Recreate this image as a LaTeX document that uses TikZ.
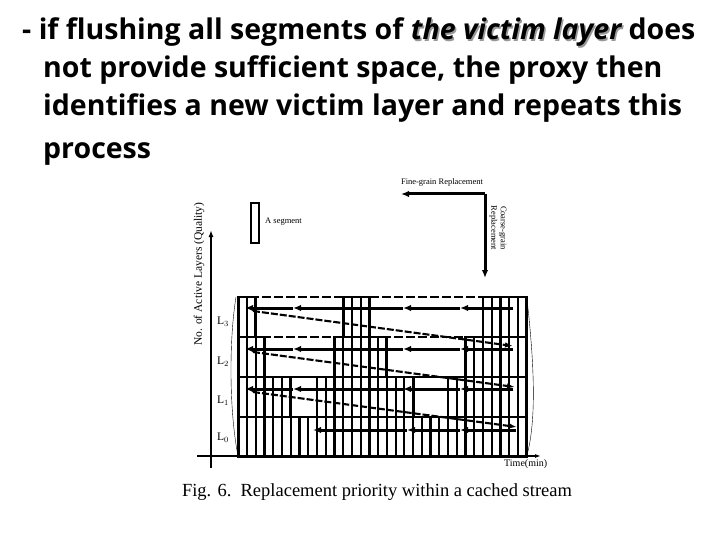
\documentclass[tikz,border=0pt]{standalone}
\usepackage{fontspec}
\setmainfont{Liberation Serif}
\newfontfamily\slidefont{Open Sans}
\usetikzlibrary{arrows.meta}

\newcommand*{\colx}{238.3}
\newcommand*{\colw}{8.74}
\newcommand*{\colend}{526.7}
\newcommand{\victim}[1]{\rlap{\kern1.5pt\raisebox{-1.5pt}{\color{black!40}\itshape #1}}{\itshape #1}}

\begin{document}
\begin{tikzpicture}
[
	x=1pt, y=-1pt,
	seg/.style={line width=2.2pt},
	segbox/.style={line width=2.8pt},
	layerline/.style={line width=2.6pt},
	rowarrow/.style={line width=3pt,-{Latex[length=8pt,width=6.5pt]}},
	slope/.style={line width=2.1pt,dash pattern=on 7pt off 2pt,-{Latex[length=8pt,width=5.5pt]}},
	serif/.style={font=\fontsize{#1}{#1}\selectfont,inner sep=0pt},
	slideline/.style={anchor=base west,inner sep=0pt,font=\slidefont\bfseries\fontsize{28.5}{28.5}\selectfont}
]
	\useasboundingbox (0,0) rectangle (720,540);

	% slide text
	\node[slideline] (line1) at (22,40) {- if flushing all segments of \victim{the victim layer} does};
	\node[slideline] (line2) at (43,78) {not provide sufficient space, the proxy then};
	\node[slideline] (line3) at (43,116) {identifies a new victim layer and repeats this};
	\node[slideline] (line4) at (43,159) {process};

	% segments of each layer
	\foreach \ytop/\first/\last in {297/0/1, 297/12/14, 297/28/32,
		337/0/2, 337/11/16, 337/26/32,
		377/0/5, 377/9/19, 377/24/32,
		417/0/32} {
		\foreach \k in {\first,...,\last}
			\draw[seg] ({\colx+\k*\colw},\ytop) -- ({\colx+\k*\colw},{\ytop+40});
		\draw[segbox] ({\colx+\first*\colw},\ytop) rectangle ({\colx+(\last+1)*\colw},{\ytop+40});
	}

	% layer boundaries
	\draw[layerline,dash pattern=on 9pt off 3pt] (\colx,297) -- (\colend,297);
	\draw[layerline,dash pattern=on 9pt off 3pt] (\colx,337) -- (\colend,337);
	\draw[layerline] (\colx,377) -- (\colend,377);
	\draw[layerline] (\colx,417) -- (\colend,417);

	% stream borders
	\draw[thin] (236,297) .. controls (229,340) and (229,410) .. (238,456);
	\draw[thin] (\colend,297) .. controls (534,360) and (537,420) .. (\colend,456);

	% axes
	\draw[line width=2.6pt,-{Latex[length=7pt,width=5pt]}] (211,468) -- (211,230);
	\draw[line width=2.6pt,-{Latex[length=6pt,width=4pt]}] (197,456) -- (541,456);
	\node[serif=11.5,rotate=90] (ylabel) at (199,274) {No. of Active Layers (Quality)};
	\node[serif=10,anchor=west] (timelabel) at (504,464) {Time(min)};
	\node[serif=11.5] (l3) at (223,322) {L$_3$};
	\node[serif=11.5] (l2) at (223,362) {L$_2$};
	\node[serif=11.5] (l1) at (223,401) {L$_1$};
	\node[serif=11.5] (l0) at (223,438) {L$_0$};

	% fine-grain replacement (within a layer)
	\foreach \y in {308,349,389} {
		\draw[rowarrow] (513,\y) -- (460,\y);
		\draw[rowarrow] (460,\y) -- (403,\y);
		\draw[rowarrow] (403,\y) -- (293,\y);
		\draw[rowarrow] (293,\y) -- (245,\y);
	}
	\draw[rowarrow] (516,430) -- (460,430);
	\draw[rowarrow] (460,430) -- (407,430);
	\draw[rowarrow] (407,430) -- (313,430);

	% coarse-grain replacement (next layer)
	\draw[slope] (253,311) -- (513,346);
	\draw[slope] (253,352) -- (515,387);
	\draw[slope] (253,392) -- (517,427);

	% legend
	\node[draw,line width=2pt,minimum width=8pt,minimum height=39pt,inner sep=0pt] (segkey) at (255,223) {};
	\node[serif=8.5,anchor=west] (segtext) at (265,222) {A segment};

	\coordinate (corner) at (485,194);
	\coordinate (fineend) at (401,194);
	\coordinate (coarseend) at (485,278);
	\draw[rowarrow] (corner) -- (fineend);
	\draw[rowarrow] (corner) -- (coarseend);
	\node[serif=8.5] (finetext) at (442,182) {Fine-grain Replacement};
	\node[serif=8.5,rotate=-90,align=center,font=\fontsize{8.5}{9.5}\selectfont] (coarsetext) at (498,228) {Coarse-grain\\Replacement};

	% caption
	\node[serif=18.5] (caption) at (377,492) {Fig. 6.\ \ Replacement priority within a cached stream};

\end{tikzpicture}
\end{document}
